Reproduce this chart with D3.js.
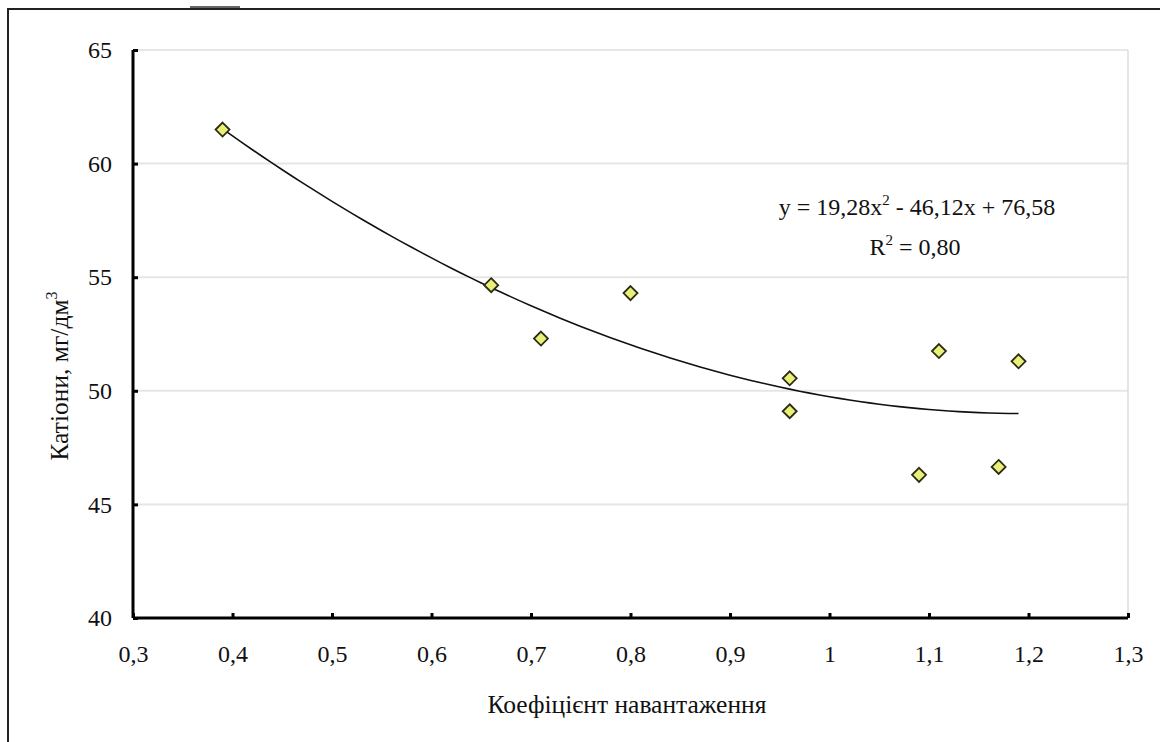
<!DOCTYPE html>
<html><head><meta charset="utf-8">
<script src="https://cdn.jsdelivr.net/npm/d3@7"></script>
<style>body{margin:0;background:#fff}svg{display:block}text{font-family:"Liberation Serif","Times New Roman",serif;fill:#111}</style>
</head><body>
<script>
const xValues = [0.39, 0.66, 0.71, 0.80, 0.96, 0.96, 1.09, 1.11, 1.17, 1.19];
const yValues = [61.5, 54.65, 52.3, 54.3, 50.55, 49.1, 46.3, 51.75, 46.65, 51.3];
const trendCoef = [19.28, -46.12, 76.58];
const xTicks = [0.3, 0.4, 0.5, 0.6, 0.7, 0.8, 0.9, 1.0, 1.1, 1.2, 1.3];
const yTicks = [40, 45, 50, 55, 60, 65];
const xTitle = "Коефіцієнт навантаження";
const yTitle = "Катіони, мг/дм";
const eqParts = ["y = 19,28x", "2", " - 46,12x + 76,58"];
const r2Parts = ["R", "2", " = 0,80"];

const W = 1160, H = 742;
const svg = d3.select("body").append("svg").attr("width", W).attr("height", H);

// outer frame
svg.append("path").attr("d", `M8,${H+5} V9 H${W+5}`).attr("fill","none").attr("stroke","#222").attr("stroke-width",2);
svg.append("line").attr("x1",190).attr("x2",240).attr("y1",7).attr("y2",7).attr("stroke","#333").attr("stroke-width",1.5);

const x = d3.scaleLinear().domain([0.3, 1.3]).range([133, 1128]);
const y = d3.scaleLinear().domain([40, 65]).range([618, 50]);

// gridlines
svg.append("g").selectAll("line").data(yTicks.filter(d => d > 40)).join("line")
  .attr("x1", x(0.3)).attr("x2", x(1.3)).attr("y1", d => y(d)).attr("y2", d => y(d))
  .attr("stroke", "#e6e6e6").attr("stroke-width", 2);
svg.append("line").attr("x1", x(1.3)).attr("x2", x(1.3)).attr("y1", y(65)).attr("y2", y(40))
  .attr("stroke", "#dcdcdc").attr("stroke-width", 1.5);

// axes
const fmt = d => String(+d.toFixed(1)).replace(".", ",");
const xAxis = svg.append("g").attr("transform", `translate(0,${y(40)})`)
  .call(d3.axisBottom(x).tickValues(xTicks).tickSize(-5).tickPadding(27).tickFormat(fmt));
const yAxis = svg.append("g").attr("transform", `translate(${x(0.3)},0)`)
  .call(d3.axisLeft(y).tickValues(yTicks).tickSize(-5).tickPadding(21).tickFormat(d => d));
[xAxis, yAxis].forEach(g => {
  g.attr("font-family", null).attr("font-size", null);
  g.select(".domain").attr("stroke", "#000").attr("stroke-width", 3);
  g.selectAll(".tick line").attr("stroke", "#000").attr("stroke-width", 3);
  g.selectAll("text").style("font-size", "24px").attr("fill", "#111");
});
xAxis.select(".domain").attr("d", `M${x(0.3)},0H${x(1.3)}`);
yAxis.select(".domain").attr("d", `M0,${y(65)}V${y(40)}`);

// trendline
const poly = v => trendCoef[0]*v*v + trendCoef[1]*v + trendCoef[2];
const xs = d3.range(d3.min(xValues), d3.max(xValues) + 1e-9, 0.01);
svg.append("path").datum(xs)
  .attr("d", d3.line().x(d => x(d)).y(d => y(poly(d))))
  .attr("fill", "none").attr("stroke", "#111").attr("stroke-width", 1.6);

// points
const s = 7;
svg.append("g").selectAll("path").data(xValues.map((v, i) => [v, yValues[i]])).join("path")
  .attr("d", d => `M${x(d[0])},${y(d[1])-s}L${x(d[0])+s},${y(d[1])}L${x(d[0])},${y(d[1])+s}L${x(d[0])-s},${y(d[1])}Z`)
  .attr("fill", "#e9f07a").attr("stroke", "#2b2b14").attr("stroke-width", 1.8);

// equation text
function supText(parts, cx, by) {
  const t = svg.append("text").attr("x", cx).attr("y", by).attr("text-anchor", "middle").style("font-size", "24px");
  t.append("tspan").text(parts[0]);
  t.append("tspan").attr("dy", -10).style("font-size", "15px").text(parts[1]);
  t.append("tspan").attr("dy", 10).text(parts[2]);
}
supText(eqParts, 917, 215);
supText(r2Parts, 915, 255);

// axis titles
svg.append("text").attr("x", 627).attr("y", 713).attr("text-anchor", "middle")
  .style("font-size", "25.5px").text(xTitle);
const yt = svg.append("text").attr("transform", "translate(68,376) rotate(-90)").attr("text-anchor", "middle")
  .style("font-size", "25.5px");
yt.append("tspan").text(yTitle);
yt.append("tspan").attr("dy", -11).style("font-size", "16px").text("3");
</script>
</body></html>
